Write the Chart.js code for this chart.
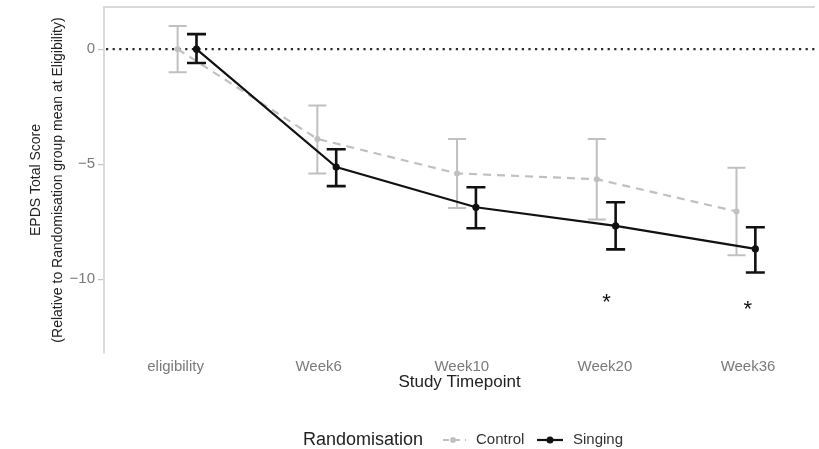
<!DOCTYPE html>
<html>
<head>
<meta charset="utf-8">
<script src="https://cdn.jsdelivr.net/npm/chart.js@4"></script>
<style>
  html, body { margin: 0; padding: 0; background: #fff; }
  #wrap { width: 819px; height: 449px; }
</style>
</head>
<body>
<div id="wrap"><canvas id="epdsChart"></canvas></div>
<script>
// Zaman noktaları
const timepoints = ['eligibility', 'Week6', 'Week10', 'Week20', 'Week36'];

// Kontrol grubu (ortalama ve hata çubukları)
const controlMean = [0, -3.9, -5.4, -5.65, -7.05];
const controlLo = [-1.0, -5.4, -6.9, -7.4, -8.95];
const controlHi = [1.0, -2.45, -3.9, -3.9, -5.15];

// Şarkı grubu
const singingMean = [0, -5.12, -6.87, -7.68, -8.68];
const singingLo = [-0.6, -5.95, -7.78, -8.7, -9.7];
const singingHi = [0.65, -4.35, -6.0, -6.65, -7.74];

// Anlamlılık yıldızları
const sigTime = [3.07, 4.08];
const sigScore = [-10.8, -11.1];

// Y ekseni işaretleri
const yTicks = [-10, -5, 0];

const GRAY = '#c0c0c0';
const DARK = '#111111';
const SING_SHIFT = 0.135;

const toPoints = (vals, shift) => vals.map((v, i) => ({ x: i + shift, y: v }));
const minus = (v) => (v < 0 ? '\u2212' + Math.abs(v) : String(v));

// Eksen etiketlerinin ek boşluk istemesini engelle
const noPad = (s) => { s.paddingTop = 0; s.paddingBottom = 0; s.paddingLeft = 0; s.paddingRight = 0; };

// Hata çubukları: her veri setinin çizgisinden hemen önce
const errorBars = {
    id: 'errorBars',
    beforeDatasetDraw(chart, args) {
        const ds = chart.data.datasets[args.index];
        if (!ds.errLo) return;
        const { ctx, scales: { x, y } } = chart;
        ctx.save();
        ctx.strokeStyle = ds.borderColor;
        ctx.lineWidth = ds.errWidth;
        ctx.setLineDash([]);
        ds.data.forEach((p, i) => {
            const px = x.getPixelForValue(p.x);
            const lo = y.getPixelForValue(ds.errLo[i]);
            const hi = y.getPixelForValue(ds.errHi[i]);
            ctx.beginPath();
            ctx.moveTo(px, lo); ctx.lineTo(px, hi);
            ctx.moveTo(px - ds.capHalf, lo); ctx.lineTo(px + ds.capHalf, lo);
            ctx.moveTo(px - ds.capHalf, hi); ctx.lineTo(px + ds.capHalf, hi);
            ctx.stroke();
        });
        ctx.restore();
    }
};

// Panel üst çizgisi ve y=0 noktalı referans çizgisi
const panelExtras = {
    id: 'panelExtras',
    beforeDatasetsDraw(chart) {
        const { ctx, chartArea: a, scales: { y } } = chart;
        ctx.save();
        ctx.strokeStyle = '#dadada';
        ctx.lineWidth = 2;
        ctx.beginPath();
        ctx.moveTo(a.left, a.top);
        ctx.lineTo(a.right, a.top);
        ctx.stroke();

        const y0 = y.getPixelForValue(0);
        ctx.strokeStyle = '#2a2a2a';
        ctx.lineWidth = 2.3;
        ctx.setLineDash([2.2, 4.4]);
        ctx.beginPath();
        ctx.moveTo(a.left + 2, y0);
        ctx.lineTo(a.right, y0);
        ctx.stroke();
        ctx.restore();
    },
    afterDatasetsDraw(chart) {
        const { ctx, scales: { x, y } } = chart;
        ctx.save();
        ctx.fillStyle = DARK;
        ctx.font = '22px "Liberation Sans", Arial, sans-serif';
        ctx.textAlign = 'center';
        ctx.textBaseline = 'middle';
        sigTime.forEach((t, i) => {
            ctx.fillText('*', x.getPixelForValue(t), y.getPixelForValue(sigScore[i]) + 5);
        });
        ctx.restore();
    }
};

// Alt kısımdaki gösterge
const bottomLegend = {
    id: 'bottomLegend',
    afterDraw(chart) {
        const { ctx } = chart;
        const cy = 440;
        ctx.save();
        ctx.textBaseline = 'middle';
        ctx.textAlign = 'left';
        ctx.fillStyle = '#222';
        ctx.font = '18px "Liberation Sans", Arial, sans-serif';
        ctx.fillText('Randomisation', 303, cy);

        const entries = [
            { label: 'Control', color: GRAY, dash: [6, 5], cx: 453, tx: 476, r: 3 },
            { label: 'Singing', color: DARK, dash: [], cx: 550, tx: 573, r: 3.5 }
        ];
        entries.forEach(e => {
            ctx.strokeStyle = e.color;
            ctx.lineWidth = 2.2;
            ctx.setLineDash(e.dash);
            ctx.lineDashOffset = -3;
            ctx.beginPath();
            ctx.moveTo(e.cx - 13, cy);
            ctx.lineTo(e.cx + 13, cy);
            ctx.stroke();
            ctx.setLineDash([]);
            ctx.fillStyle = e.color;
            ctx.beginPath();
            ctx.arc(e.cx, cy, e.r, 0, Math.PI * 2);
            ctx.fill();
            ctx.fillStyle = '#333';
            ctx.font = '15px "Liberation Sans", Arial, sans-serif';
            ctx.fillText(e.label, e.tx, cy);
        });
        ctx.restore();
    }
};

new Chart(document.getElementById('epdsChart'), {
    type: 'line',
    data: {
        datasets: [
            {
                label: 'Control',
                data: toPoints(controlMean, 0),
                errLo: controlLo,
                errHi: controlHi,
                errWidth: 2,
                capHalf: 9,
                borderColor: GRAY,
                backgroundColor: GRAY,
                borderWidth: 2.2,
                borderDash: [8, 6],
                pointRadius: 3,
                pointBorderWidth: 0,
                tension: 0,
                order: 2
            },
            {
                label: 'Singing',
                data: toPoints(singingMean, SING_SHIFT),
                errLo: singingLo,
                errHi: singingHi,
                errWidth: 2.6,
                capHalf: 9.5,
                borderColor: DARK,
                backgroundColor: DARK,
                borderWidth: 2.2,
                pointRadius: 3.6,
                pointBorderWidth: 0,
                tension: 0,
                order: 1
            }
        ]
    },
    options: {
        responsive: true,
        maintainAspectRatio: false,
        animation: false,
        layout: { padding: { top: 7, right: 0, bottom: 54, left: 0 } },
        plugins: { legend: { display: false }, tooltip: { enabled: false } },
        scales: {
            x: {
                type: 'linear',
                min: -0.527,
                max: 4.562,
                display: false
            },
            xl: {
                type: 'linear',
                position: 'bottom',
                min: -0.5,
                max: 4.468,
                afterBuildTicks: (s) => { s.ticks = timepoints.map((_, i) => ({ value: i })); },
                afterFit: (s) => { s.height = 42; noPad(s); },
                ticks: {
                    callback: (v) => timepoints[v] ?? '',
                    color: '#7a7a7a',
                    font: { family: '"Liberation Sans", Arial, sans-serif', size: 15 },
                    padding: 5,
                    maxRotation: 0,
                    autoSkip: false
                },
                grid: { display: false, drawTicks: false },
                border: { display: false },
                title: {
                    display: true,
                    text: 'Study Timepoint',
                    color: '#222',
                    font: { family: '"Liberation Sans", Arial, sans-serif', size: 17 },
                    padding: { top: 0, bottom: 2 }
                }
            },
            y: {
                type: 'linear',
                position: 'left',
                min: -13.2,
                max: 1.83,
                afterBuildTicks: (s) => { s.ticks = yTicks.map(v => ({ value: v })); },
                afterFit: (s) => { s.width = 104; noPad(s); },
                ticks: {
                    callback: (v) => minus(v),
                    color: '#7a7a7a',
                    font: { family: '"Liberation Sans", Arial, sans-serif', size: 15 },
                    padding: 3
                },
                grid: { drawOnChartArea: false, drawTicks: true, tickLength: 6, color: '#c4c4c4', lineWidth: 1.2 },
                border: { display: true, color: '#dadada', width: 2 },
                title: {
                    display: true,
                    text: ['EPDS Total Score', '(Relative to Randomisation group mean at Eligibility)'],
                    color: '#222',
                    font: { family: '"Liberation Sans", Arial, sans-serif', size: 14, lineHeight: 1.57 },
                    padding: { top: 25, bottom: 0 }
                }
            }
        }
    },
    plugins: [errorBars, panelExtras, bottomLegend]
});
</script>
</body>
</html>
